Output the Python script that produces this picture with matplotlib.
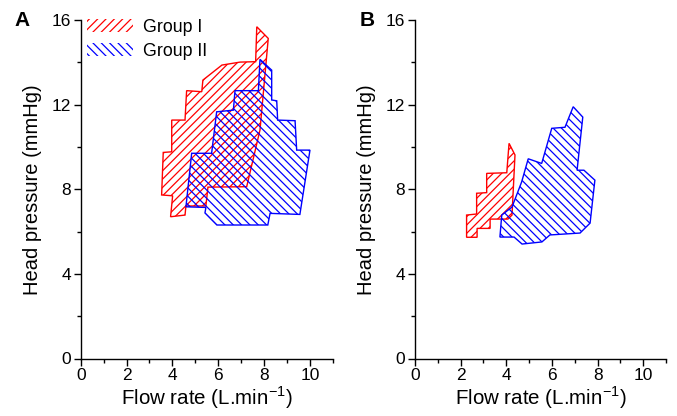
import matplotlib
matplotlib.use("Agg")
import matplotlib.pyplot as plt
from matplotlib.patches import Polygon, Patch
from matplotlib.ticker import MultipleLocator

plt.rcParams['font.family'] = ['Liberation Sans', 'DejaVu Sans']
plt.rcParams['hatch.linewidth'] = 0.9

# Panel A - Group I envelope (flow rate, head pressure)
a_g1_flow = [7.68, 8.18, 7.82, 7.24, 5.55, 5.46, 4.59, 4.55, 3.92, 4.01, 3.53, 3.60, 3.97, 3.97, 4.55, 4.62, 5.28, 5.33, 6.16, 6.95, 7.63]
a_g1_head = [15.68, 15.13, 10.80, 8.12, 8.10, 7.21, 7.21, 6.78, 6.70, 7.69, 7.73, 9.74, 9.77, 11.27, 11.27, 12.66, 12.61, 13.16, 13.87, 14.01, 14.03]

# Panel A - Group II envelope
a_g2_flow = [7.82, 8.33, 8.33, 8.55, 8.59, 9.35, 9.42, 10.00, 9.56, 8.26, 8.16, 5.94, 5.42, 5.46, 4.59, 4.84, 5.71, 5.93, 6.66, 6.73, 7.75]
a_g2_head = [14.14, 13.63, 12.22, 12.18, 11.27, 11.24, 9.85, 9.85, 6.81, 6.86, 6.31, 6.31, 6.88, 7.14, 7.17, 9.70, 9.70, 11.66, 11.74, 12.66, 12.66]

# Panel B - Group I envelope
b_g1_flow = [4.12, 4.38, 4.25, 4.07, 3.29, 3.29, 2.72, 2.72, 2.26, 2.26, 2.70, 2.70, 3.14, 3.14, 4.02]
b_g1_head = [10.17, 9.62, 6.78, 6.59, 6.59, 6.15, 6.15, 5.73, 5.73, 6.78, 6.83, 7.81, 7.84, 8.75, 8.78]

# Panel B - Group II envelope
b_g2_flow = [6.93, 7.35, 7.10, 7.40, 7.88, 7.67, 7.23, 5.91, 5.56, 4.69, 4.34, 3.72, 3.80, 4.25, 4.67, 4.96, 5.55, 5.99, 6.57]
b_g2_head = [11.90, 11.41, 8.90, 8.90, 8.43, 6.40, 5.93, 5.84, 5.51, 5.41, 5.74, 5.74, 6.78, 7.16, 8.34, 9.44, 9.22, 10.88, 10.93]

x_ticks = [0, 2, 4, 6, 8, 10]
y_ticks = [0, 4, 8, 12, 16]
group_labels = ['Group I', 'Group II']
panel_labels = ['A', 'B']

RED = '#ff0000'
BLUE = '#0000ff'
HATCH_RED = '////'
HATCH_BLUE = '\\\\\\\\'

fig = plt.figure(figsize=(6.77, 4.16), dpi=100)
W, H = 677, 416
axA = fig.add_axes([80.7 / W, (416 - 358.5) / H, 252.2 / W, 338.5 / H])
axB = fig.add_axes([415 / W, (416 - 358.5) / H, 251.1 / W, 338.5 / H])

def style(ax):
    ax.set_xlim(0, 11)
    ax.set_ylim(0, 16)
    for s in ['top', 'right']:
        ax.spines[s].set_visible(False)
    for s in ['left', 'bottom']:
        ax.spines[s].set_linewidth(1.0)
    ax.set_xticks(x_ticks)
    ax.set_yticks(y_ticks)
    ax.xaxis.set_minor_locator(MultipleLocator(1))
    ax.yaxis.set_minor_locator(MultipleLocator(2))
    ax.tick_params(which='major', direction='out', length=5, width=1, labelsize=12.5, pad=2)
    ax.tick_params(which='minor', direction='out', length=3, width=1)
    ax.set_xlabel('Flow rate (L.min$^{\\mathregular{-1}}$)', fontsize=14.8, labelpad=1)
    ax.set_ylabel('Head pressure (mmHg)', fontsize=14.5, labelpad=7)

def add_poly(ax, xs, ys, color, hatch):
    p = Polygon(list(zip(xs, ys)), closed=True, facecolor='none',
                edgecolor=color, hatch=hatch, linewidth=1.0)
    ax.add_patch(p)

add_poly(axA, a_g1_flow, a_g1_head, RED, HATCH_RED)
add_poly(axA, a_g2_flow, a_g2_head, BLUE, HATCH_BLUE)
add_poly(axB, b_g1_flow, b_g1_head, RED, HATCH_RED)
add_poly(axB, b_g2_flow, b_g2_head, BLUE, HATCH_BLUE)

for ax in (axA, axB):
    style(ax)

handles = [Patch(facecolor='none', edgecolor=RED, hatch=HATCH_RED, linewidth=0),
           Patch(facecolor='none', edgecolor=BLUE, hatch=HATCH_BLUE, linewidth=0)]
axA.legend(handles, group_labels, loc='upper left', bbox_to_anchor=(-0.003, 1.025),
           frameon=False, fontsize=12.8, handlelength=2.6, handleheight=0.8,
           handletextpad=0.55, labelspacing=0.4, borderaxespad=0)

fig.text(22 / W, 1 - 20 / H, panel_labels[0], fontsize=15, fontweight='bold', va='center', ha='center')
fig.text(367 / W, 1 - 20 / H, panel_labels[1], fontsize=15, fontweight='bold', va='center', ha='center')

fig.savefig('out.png', dpi=100)
